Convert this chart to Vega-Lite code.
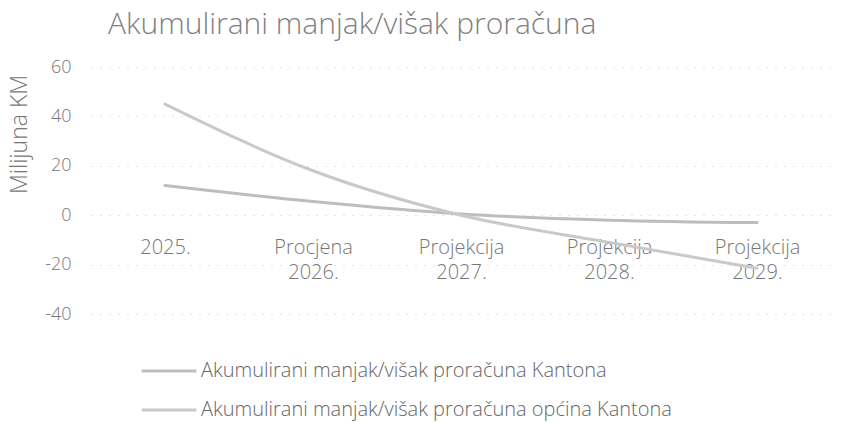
{
  "$schema": "https://vega.github.io/schema/vega-lite/v6.json",
  "width": 740,
  "height": 247,
  "autosize": "none",
  "padding": {"left": 91, "top": 67, "right": 16, "bottom": 109},
  "background": "white",
  "title": {
    "text": "Akumulirani manjak/višak proračuna",
    "anchor": "start",
    "frame": "group",
    "dx": 17,
    "offset": 18,
    "font": "Open Sans",
    "fontSize": 30,
    "fontWeight": 300,
    "color": "#808080"
  },
  "data": {
    "values": [
      {"period": "2025.", "series": "Akumulirani manjak/višak proračuna Kantona", "value": 12},
      {"period": "Procjena 2026.", "series": "Akumulirani manjak/višak proračuna Kantona", "value": 5.5},
      {"period": "Projekcija 2027.", "series": "Akumulirani manjak/višak proračuna Kantona", "value": 0.5},
      {"period": "Projekcija 2028.", "series": "Akumulirani manjak/višak proračuna Kantona", "value": -2},
      {"period": "Projekcija 2029.", "series": "Akumulirani manjak/višak proračuna Kantona", "value": -3},
      {"period": "2025.", "series": "Akumulirani manjak/višak proračuna općina Kantona", "value": 45},
      {"period": "Procjena 2026.", "series": "Akumulirani manjak/višak proračuna općina Kantona", "value": 18},
      {"period": "Projekcija 2027.", "series": "Akumulirani manjak/višak proračuna općina Kantona", "value": 0},
      {"period": "Projekcija 2028.", "series": "Akumulirani manjak/višak proračuna općina Kantona", "value": -11},
      {"period": "Projekcija 2029.", "series": "Akumulirani manjak/višak proračuna općina Kantona", "value": -21.5}
    ]
  },
  "mark": {"type": "line", "strokeWidth": 3, "strokeCap": "round", "interpolate": "monotone"},
  "encoding": {
    "x": {
      "field": "period",
      "type": "ordinal",
      "sort": null,
      "scale": {"type": "point", "padding": 0.5},
      "axis": {
        "title": null,
        "orient": "bottom",
        "offset": -99,
        "domain": false,
        "ticks": false,
        "grid": false,
        "labelAngle": 0,
        "labelExpr": "split(datum.label, ' ')",
        "labelFont": "Open Sans",
        "labelFontSize": 20,
        "labelFontWeight": 300,
        "labelColor": "#777777",
        "labelPadding": 22,
        "labelLineHeight": 25
      }
    },
    "y": {
      "field": "value",
      "type": "quantitative",
      "scale": {"domain": [-40, 60], "nice": false},
      "axis": {
        "title": "Milijuna KM",
        "titleFont": "Open Sans",
        "titleFontSize": 23,
        "titleFontWeight": 300,
        "titleColor": "#777777",
        "titleX": -72,
        "titleY": 67,
        "titleAlign": "center",
        "titleBaseline": "middle",
        "titleAngle": 270,
        "values": [-40, -20, 0, 20, 40, 60],
        "labelExpr": "'' + datum.value",
        "domain": false,
        "ticks": false,
        "labelFont": "Open Sans",
        "labelFontSize": 18,
        "labelFontWeight": 300,
        "labelColor": "#777777",
        "labelPadding": 20,
        "gridColor": "#c8c8c8",
        "gridDash": [1, 8],
        "gridWidth": 1
      }
    },
    "color": {
      "field": "series",
      "type": "nominal",
      "scale": {"range": ["#bdbdbd", "#c9c9c9"]},
      "legend": {
        "title": null,
        "orient": "none",
        "legendX": 49,
        "legendY": 275,
        "direction": "vertical",
        "symbolType": "stroke",
        "symbolSize": 3000,
        "symbolStrokeWidth": 3,
        "labelFont": "Open Sans",
        "labelFontSize": 20,
        "labelFontWeight": 300,
        "labelColor": "#666666",
        "labelLimit": 700,
        "labelOffset": 3,
        "rowPadding": -17
      }
    }
  },
  "config": {"view": {"stroke": null}}
}
